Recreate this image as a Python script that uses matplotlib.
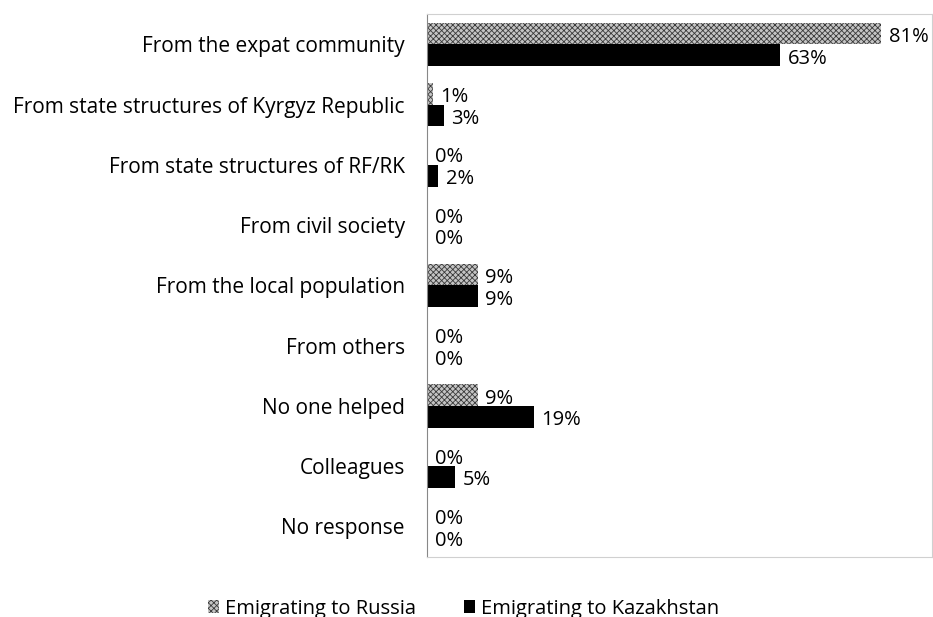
import matplotlib
matplotlib.use("Agg")
import matplotlib.pyplot as plt
import numpy as np

categories = ["From the expat community", "From state structures of Kyrgyz Republic",
              "From state structures of RF/RK", "From civil society",
              "From the local population", "From others", "No one helped",
              "Colleagues", "No response"]
russia = [81, 1, 0, 0, 9, 0, 9, 0, 0]
kazakhstan = [63, 3, 2, 0, 9, 0, 19, 5, 0]
series_names = ["Emigrating to Russia", "Emigrating to Kazakhstan"]

plt.rcParams['font.family'] = ['Open Sans', 'DejaVu Sans']
plt.rcParams['hatch.linewidth'] = 0.6

fig = plt.figure(figsize=(9.33, 6.17), dpi=100)
ax = fig.add_axes([0.4577, 0.098, 0.541, 0.879])

y = np.arange(len(categories))
h = 0.36
b1 = ax.barh(y - h/2, russia, height=h, facecolor='#c4c4c4', hatch='xxxxxx',
             edgecolor='#3a3a3a', linewidth=0, label=series_names[0])
b2 = ax.barh(y + h/2, kazakhstan, height=h, color='black', linewidth=0,
             label=series_names[1])

fs = 14.5
for bars, vals in ((b1, russia), (b2, kazakhstan)):
    for rect, v in zip(bars, vals):
        ax.annotate(f"{v}%", (rect.get_width(), rect.get_y() + rect.get_height()/2),
                    xytext=(5.5, -2.5), textcoords='offset points', ha='left', va='center',
                    fontsize=fs, color='black')

ax.set_xlim(0, 90)
ax.set_ylim(len(categories) - 0.5, -0.5)
ax.set_yticks(y)
ax.set_yticklabels(categories, fontsize=15)
ax.tick_params(axis='y', length=0, pad=16)
ax.set_xticks([])
for s in ['top', 'right', 'bottom']:
    ax.spines[s].set_color('#d0d0d0')
ax.spines['left'].set_color('#888888')

leg = fig.legend(handles=[b1, b2], labels=series_names, loc='lower center',
                 bbox_to_anchor=(0.497, -0.032), ncol=2, frameon=False, fontsize=fs,
                 handlelength=0.55, handleheight=0.55, handletextpad=0.3, columnspacing=2.4)

fig.savefig("out.png", dpi=100)
